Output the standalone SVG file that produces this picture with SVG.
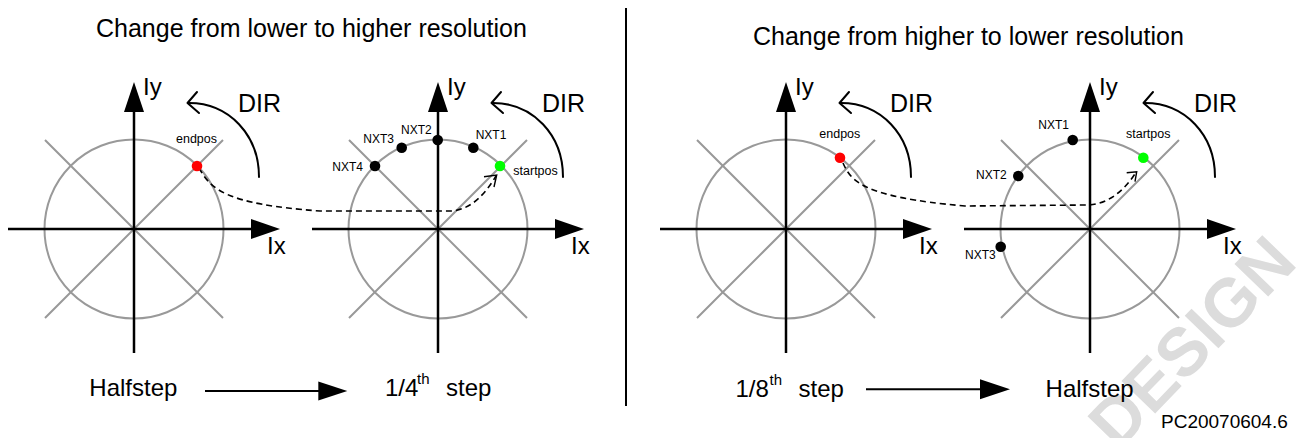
<svg xmlns="http://www.w3.org/2000/svg" width="1296" height="438" viewBox="0 0 1296 438">
<style>
text{font-family:"Liberation Sans",Arial,Helvetica,sans-serif;fill:#000}
.title{font-size:25px}
.big{font-size:24px}
.dir{font-size:25px}
.small{font-size:12px}
.lbl{font-size:12.5px}
.gray{stroke:#999;stroke-width:2;fill:none}
.axis{stroke:#000;stroke-width:2.5;fill:none}
.ah{fill:#000;stroke:none}
.dirarc{stroke:#000;stroke-width:2;fill:none;stroke-linecap:round;stroke-linejoin:round}
.dash{stroke:#000;stroke-width:1.6;fill:none;stroke-dasharray:6 4}
.open{stroke:#000;stroke-width:1.4;fill:none}
.wm{font-family:"Liberation Sans",Arial,sans-serif;font-weight:bold;font-size:68px;fill:#dcdcdc}
</style>
<defs>
<g id="axes">
<path class="gray" d="M-89,-89 L89,89 M89,-89 L-89,89"/>
<circle class="gray" cx="0" cy="0" r="89.5"/>
<line class="axis" x1="-126" y1="0" x2="118" y2="0"/>
<polygon class="ah" points="117,-10 146,0 117,10"/>
<line class="axis" x1="0" y1="124" x2="0" y2="-118"/>
<polygon class="ah" points="-10,-117 0,-147 10,-117"/>
<text class="big" x="9" y="-134">Iy</text>
<text class="big" x="133" y="25">Ix</text>
<text class="dir" x="104" y="-117">DIR</text>
<path class="dirarc" d="M125,-52 C125,-94 95,-126 55,-126"/>
<polyline class="dirarc" points="63,-137 53.5,-126 65,-116"/>
</g>
</defs>

<g id="watermark"><text class="wm" transform="translate(1118,452) rotate(-46)">DESIGN</text></g>

<g id="title-left"><text class="title" x="96" y="36.7">Change from lower to higher resolution</text></g>
<g id="title-right"><text class="title" x="753" y="45">Change from higher to lower resolution</text></g>
<g id="divider"><line x1="626" y1="8" x2="626" y2="406" stroke="#000" stroke-width="2"/></g>

<g id="diagram-1"><use href="#axes" transform="translate(134,229)"/></g>
<g id="diagram-2"><use href="#axes" transform="translate(438,229)"/></g>
<g id="diagram-3"><use href="#axes" transform="translate(786,229)"/></g>
<g id="diagram-4"><use href="#axes" transform="translate(1090,229)"/></g>

<g id="connectors">
<path class="dash" d="M199,168 C211,189 224,204 320,211 L452,211 C472,209 485,194 496,176"/>
<polyline class="open" points="484,176.7 496.7,175 494,187"/>
<path class="dash" d="M843,163 C851,181 862,197 965,206 L1088,205 C1108,204 1124,191 1135.5,173"/>
<polyline class="open" points="1126.7,172.7 1136.7,171.7 1135,181.7"/>
<line x1="205" y1="391" x2="320" y2="391" stroke="#000" stroke-width="2"/>
<polygon class="ah" points="318.3,381.5 347.3,391 318.3,400.5"/>
<line x1="866" y1="389.3" x2="982" y2="389.3" stroke="#000" stroke-width="2"/>
<polygon class="ah" points="980,379.3 1010,389.3 980,399.3"/>
</g>

<g id="endpos-1"><circle cx="197" cy="166" r="5.3" fill="#ff0000"/><text class="lbl" x="176" y="143">endpos</text></g>
<g id="startpos-2"><circle cx="500" cy="166" r="5.3" fill="#00ff00"/><text class="lbl" x="513.3" y="175">startpos</text></g>
<g id="nxt1-2"><circle cx="473.3" cy="147.7" r="5.3" fill="#000"/><text class="small" x="475.7" y="139">NXT1</text></g>
<g id="nxt2-2"><circle cx="437.7" cy="140" r="5.3" fill="#000"/><text class="small" x="401" y="134">NXT2</text></g>
<g id="nxt3-2"><circle cx="401.7" cy="147.7" r="5.3" fill="#000"/><text class="small" x="363.3" y="143.3">NXT3</text></g>
<g id="nxt4-2"><circle cx="375" cy="166" r="5.3" fill="#000"/><text class="small" x="332.3" y="171">NXT4</text></g>

<g id="endpos-3"><circle cx="840" cy="157.7" r="5.3" fill="#ff0000"/><text class="lbl" x="819.3" y="138.3">endpos</text></g>
<g id="startpos-4"><circle cx="1143.3" cy="157.7" r="5.3" fill="#00ff00"/><text class="lbl" x="1126" y="138.3">startpos</text></g>
<g id="nxt1-4"><circle cx="1072.7" cy="140" r="5.3" fill="#000"/><text class="small" x="1038.3" y="129.3">NXT1</text></g>
<g id="nxt2-4"><circle cx="1018.3" cy="176" r="5.3" fill="#000"/><text class="small" x="976" y="179.3">NXT2</text></g>
<g id="nxt3-4"><circle cx="1000.7" cy="246.7" r="5.3" fill="#000"/><text class="small" x="965" y="259.3">NXT3</text></g>

<g id="label-halfstep-left"><text class="big" x="89.3" y="396">Halfstep</text></g>
<g id="label-quarter"><text class="big" y="396"><tspan x="385">1/4</tspan><tspan x="417" y="384" font-size="15">th</tspan><tspan x="446" y="396">step</tspan></text></g>
<g id="label-eighth"><text class="big" y="396.7"><tspan x="735.4">1/8</tspan><tspan x="769.5" y="384.7" font-size="15">th</tspan><tspan x="798.6" y="396.7">step</tspan></text></g>
<g id="label-halfstep-right"><text class="big" x="1045.6" y="396.7">Halfstep</text></g>
<g id="code"><text x="1161" y="428" font-size="19">PC20070604.6</text></g>
</svg>
